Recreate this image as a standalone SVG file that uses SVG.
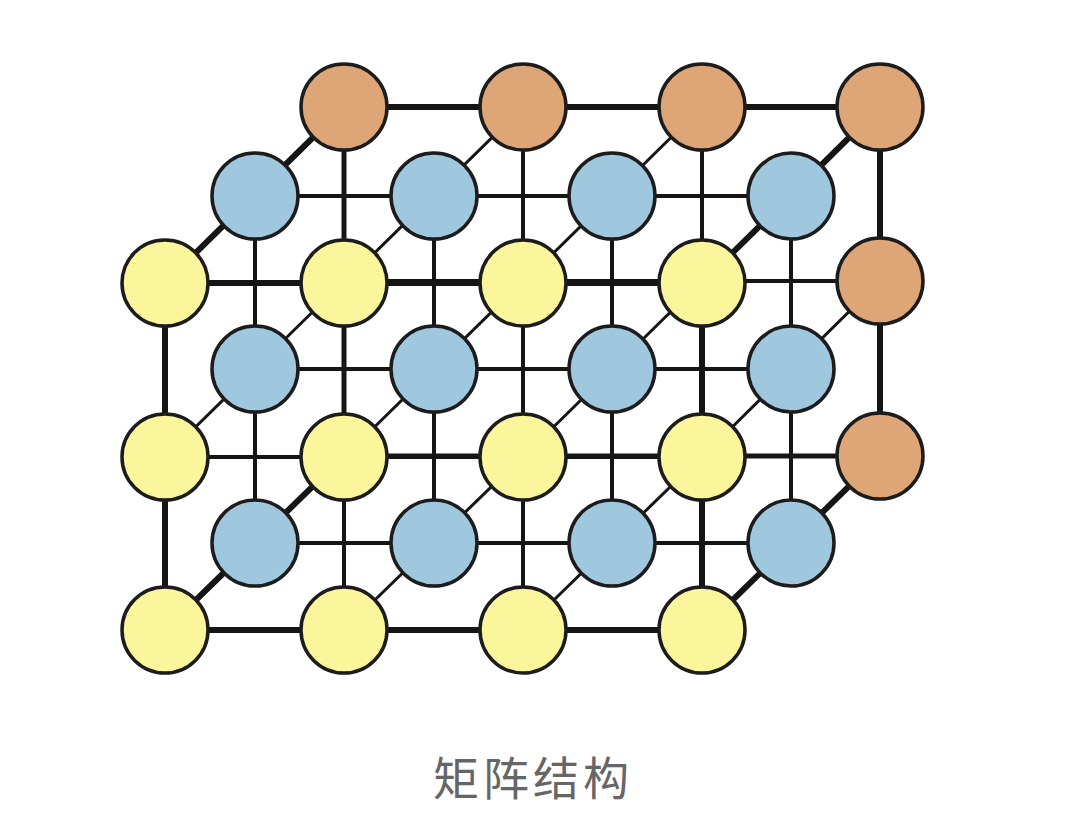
<svg xmlns="http://www.w3.org/2000/svg" width="1080" height="835" viewBox="0 0 1080 835">
<style>
.bg{fill:#ffffff}
.e{stroke:#151515;stroke-linecap:butt;fill:none}
.k{stroke-width:6}
.h{stroke-width:5}
.m{stroke-width:4}
.t{stroke-width:3}
.n{stroke:#1c1c1c;stroke-width:3.5}
.y{fill:#fbf59c}
.b{fill:#9fc7de}
.o{fill:#dea577}
.lbl{font-family:"Noto Sans CJK SC","Noto Sans",sans-serif;font-size:46px;fill:#666666;letter-spacing:4px}
</style>
<rect class="bg" x="0" y="0" width="1080" height="835"/>
<g id="connectors">
  <line class="e m" x1="344" y1="281" x2="880" y2="281"/>
  <line class="e m" x1="523" y1="107" x2="523" y2="456"/>
  <line class="e m" x1="702" y1="107" x2="702" y2="456"/>
  <line class="e h" x1="344" y1="456" x2="880" y2="456"/>
  <line class="e h" x1="344" y1="107" x2="344" y2="456"/>
  <line class="e k" x1="344" y1="107" x2="880" y2="107"/>
  <line class="e k" x1="880" y1="107" x2="880" y2="456"/>
  <line class="e m" x1="255" y1="196" x2="791" y2="196"/>
  <line class="e m" x1="255" y1="369" x2="791" y2="369"/>
  <line class="e m" x1="255" y1="543" x2="791" y2="543"/>
  <line class="e m" x1="255" y1="196" x2="255" y2="543"/>
  <line class="e m" x1="434" y1="196" x2="434" y2="543"/>
  <line class="e m" x1="612" y1="196" x2="612" y2="543"/>
  <line class="e m" x1="791" y1="196" x2="791" y2="543"/>
  <line class="e t" x1="344" y1="283" x2="523" y2="107"/>
  <line class="e t" x1="523" y1="283" x2="702" y2="107"/>
  <line class="e t" x1="165" y1="457" x2="344" y2="281"/>
  <line class="e t" x1="344" y1="457" x2="523" y2="281"/>
  <line class="e t" x1="523" y1="457" x2="702" y2="281"/>
  <line class="e t" x1="702" y1="457" x2="880" y2="281"/>
  <line class="e t" x1="344" y1="630" x2="523" y2="456"/>
  <line class="e t" x1="523" y1="630" x2="702" y2="456"/>
  <line class="e k" x1="165" y1="283" x2="344" y2="107"/>
  <line class="e k" x1="702" y1="283" x2="880" y2="107"/>
  <line class="e k" x1="702" y1="630" x2="880" y2="456"/>
  <line class="e k" x1="165" y1="630" x2="344" y2="456"/>
  <line class="e m" x1="165" y1="457" x2="702" y2="457"/>
  <line class="e m" x1="344" y1="283" x2="344" y2="630"/>
  <line class="e m" x1="523" y1="283" x2="523" y2="630"/>
  <line class="e k" x1="165" y1="283" x2="702" y2="283"/>
  <line class="e k" x1="165" y1="630" x2="702" y2="630"/>
  <line class="e k" x1="165" y1="283" x2="165" y2="630"/>
  <line class="e k" x1="702" y1="283" x2="702" y2="630"/>
</g>
<g id="back-nodes">
  <g id="back-0-0"><circle class="n o" cx="344" cy="107" r="43"/></g>
  <g id="back-0-1"><circle class="n o" cx="523" cy="107" r="43"/></g>
  <g id="back-0-2"><circle class="n o" cx="702" cy="107" r="43"/></g>
  <g id="back-0-3"><circle class="n o" cx="880" cy="107" r="43"/></g>
  <g id="back-1-3"><circle class="n o" cx="880" cy="281" r="43"/></g>
  <g id="back-2-3"><circle class="n o" cx="880" cy="456" r="43"/></g>
</g>
<g id="middle-nodes">
  <g id="mid-0-0"><circle class="n b" cx="255" cy="196" r="43"/></g>
  <g id="mid-0-1"><circle class="n b" cx="434" cy="196" r="43"/></g>
  <g id="mid-0-2"><circle class="n b" cx="612" cy="196" r="43"/></g>
  <g id="mid-0-3"><circle class="n b" cx="791" cy="196" r="43"/></g>
  <g id="mid-1-0"><circle class="n b" cx="255" cy="369" r="43"/></g>
  <g id="mid-1-1"><circle class="n b" cx="434" cy="369" r="43"/></g>
  <g id="mid-1-2"><circle class="n b" cx="612" cy="369" r="43"/></g>
  <g id="mid-1-3"><circle class="n b" cx="791" cy="369" r="43"/></g>
  <g id="mid-2-0"><circle class="n b" cx="255" cy="543" r="43"/></g>
  <g id="mid-2-1"><circle class="n b" cx="434" cy="543" r="43"/></g>
  <g id="mid-2-2"><circle class="n b" cx="612" cy="543" r="43"/></g>
  <g id="mid-2-3"><circle class="n b" cx="791" cy="543" r="43"/></g>
</g>
<g id="front-nodes">
  <g id="front-0-0"><circle class="n y" cx="165" cy="283" r="43"/></g>
  <g id="front-0-1"><circle class="n y" cx="344" cy="283" r="43"/></g>
  <g id="front-0-2"><circle class="n y" cx="523" cy="283" r="43"/></g>
  <g id="front-0-3"><circle class="n y" cx="702" cy="283" r="43"/></g>
  <g id="front-1-0"><circle class="n y" cx="165" cy="457" r="43"/></g>
  <g id="front-1-1"><circle class="n y" cx="344" cy="457" r="43"/></g>
  <g id="front-1-2"><circle class="n y" cx="523" cy="457" r="43"/></g>
  <g id="front-1-3"><circle class="n y" cx="702" cy="457" r="43"/></g>
  <g id="front-2-0"><circle class="n y" cx="165" cy="630" r="43"/></g>
  <g id="front-2-1"><circle class="n y" cx="344" cy="630" r="43"/></g>
  <g id="front-2-2"><circle class="n y" cx="523" cy="630" r="43"/></g>
  <g id="front-2-3"><circle class="n y" cx="702" cy="630" r="43"/></g>
</g>
<g id="caption">
  <text class="lbl" x="533" y="795" text-anchor="middle">矩阵结构</text>
</g>
</svg>
